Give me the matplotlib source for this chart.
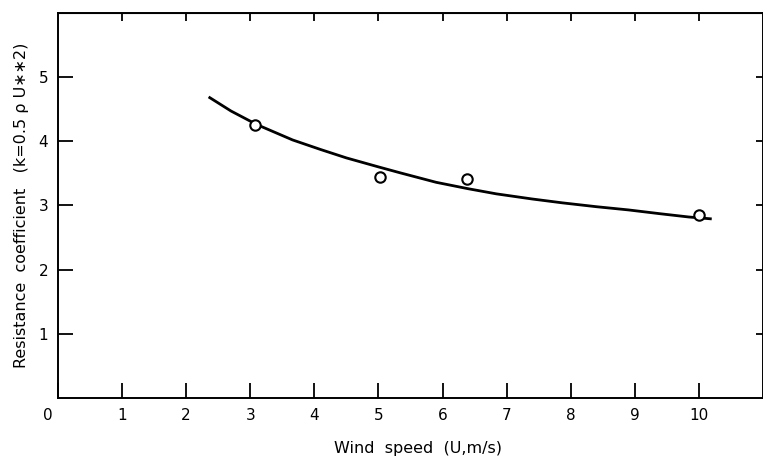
import numpy as np
import matplotlib
matplotlib.use('Agg')
from matplotlib import pyplot as plt
from matplotlib.transforms import ScaledTranslation

# measured points (open circles)
wind_obs = [3.08, 5.03, 6.38, 10.0]
coef_obs = [4.26, 3.44, 3.41, 2.85]

# fitted curve
wind_fit = [2.35, 2.7, 3.1, 3.66, 4.1, 4.5, 5.0, 5.33, 5.9, 6.4, 6.84, 7.4, 7.87, 8.4, 8.9, 9.4, 9.84, 10.2]
coef_fit = [4.69, 4.47, 4.26, 4.02, 3.87, 3.74, 3.60, 3.51, 3.36, 3.26, 3.18, 3.10, 3.04, 2.98, 2.93, 2.87, 2.82, 2.79]

xticks = list(range(0, 11))
yticks = [1, 2, 3, 4, 5]

plt.rcParams['font.family'] = 'DejaVu Sans'

fig = plt.figure(figsize=(7.63, 4.57), dpi=100)
ax = fig.add_axes([0.076, 0.129, 0.924, 0.843])

ax.plot(wind_fit, coef_fit, color='black', lw=2.0, solid_capstyle='butt', zorder=2)
ax.plot(wind_obs, coef_obs, 'o', ms=7.5, mfc='white', mec='black', mew=1.5, zorder=3)

ax.set_xlim(0, 11)
ax.set_ylim(0, 6)
ax.set_xticks(xticks)
ax.set_yticks(yticks)
ax.set_xticklabels([str(t) for t in xticks], fontsize=11)
ax.set_yticklabels([str(t) for t in yticks], fontsize=11)

# inward ticks, longer on the bottom/left
ax.tick_params(axis='both', which='major', direction='in', width=1.3, length=11, pad=7,
               top=False, right=False)
for spine in ax.spines.values():
    spine.set_linewidth(1.4)

# short ticks on top and right
ax2 = ax.secondary_xaxis('top')
ax2.set_xticks(xticks[1:])
ax2.tick_params(direction='in', length=6, width=1.3, labeltop=False)
ax3 = ax.secondary_yaxis('right')
ax3.set_yticks(yticks)
ax3.tick_params(direction='in', length=5, width=1.3, labelright=False)

# shift the "0" label a bit to the left like the original
lbl0 = ax.get_xticklabels()[0]
lbl0.set_transform(lbl0.get_transform() + ScaledTranslation(-10 / 100, 0, fig.dpi_scale_trans))

xl = ax.set_xlabel('Wind  speed  (U,m/s)', fontsize=11.5, labelpad=13)
xl.set_x(0.51)
ax.set_ylabel('Resistance  coefficient   (k=0.5 \u03c1 U\u2217\u22172)', fontsize=11.5, labelpad=7)

fig.savefig('out.png', dpi=100)
